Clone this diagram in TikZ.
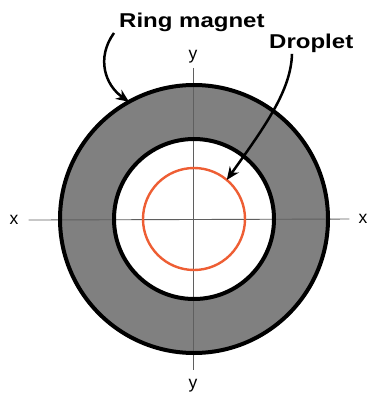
\documentclass[tikz,border=0pt]{standalone}
\usepackage{fontspec}
\setmainfont{Liberation Sans}
\usetikzlibrary{arrows.meta,positioning}

\definecolor{magnetgray}{RGB}{128,128,128}
\definecolor{droporange}{RGB}{238,94,52}
\definecolor{axisgray}{RGB}{95,95,95}

\begin{document}
\begin{tikzpicture}[
    x=1pt, y=-1pt,
    % ---------- styles ----------
    ringedge/.style={circle, draw=black, line width=4pt, inner sep=0pt, outer sep=0pt},
    dropedge/.style={circle, draw=droporange, line width=2.4pt, inner sep=0pt, outer sep=0pt},
    axisline/.style={draw=axisgray, line width=0.9pt},
    axlabel/.style={font=\fontsize{17.5}{20}\selectfont, inner sep=0pt, anchor=mid},
    callout/.style={font=\fontsize{20}{24}\selectfont\bfseries, inner sep=0pt,
      xscale=1.2, transform shape},
    pointer/.style={-{Stealth[length=13pt,width=11pt]}, line width=2.5pt}
]
\useasboundingbox (0,0) rectangle (369,398);

\coordinate (c) at (194,219);

% ====== magnet body ======
\fill[magnetgray] (c) circle (134);
\fill[white] (c) circle (80);

% ====== axes ======
\node[axlabel] (xl) at (14,222) {x};
\node[axlabel] (xr) at (363,221) {x};
\node[axlabel] (yt) at (193,57) {y};
\node[axlabel] (yb) at (193,386) {y};
\draw[axisline] ([xshift=10pt]xl.east) -- ([xshift=-9pt]xr.west);
\draw[axisline] (193,68) -- (193,370);

% ====== circles ======
\node[ringedge, minimum size=268pt] (outer) at (c) {};
\node[ringedge, minimum size=160pt] (inner) at (c) {};
\node[dropedge, minimum size=102pt] (drop) at (c) {};

% ====== labels ======
\node[callout, anchor=base west] (rm) at (119,27.5) {Ring magnet};
\node[callout, anchor=base west] (dl) at (269,48.5) {Droplet};

% ====== pointers ======
\draw[pointer] ([xshift=-5pt,yshift=-1pt]rm.south west)
  .. controls (96,58) and (105,85) .. (outer.119);
\draw[pointer] ([xshift=23pt,yshift=-1pt]dl.south west)
  .. controls (291,90) and (266,125) .. (drop.50);

\end{tikzpicture}
\end{document}
